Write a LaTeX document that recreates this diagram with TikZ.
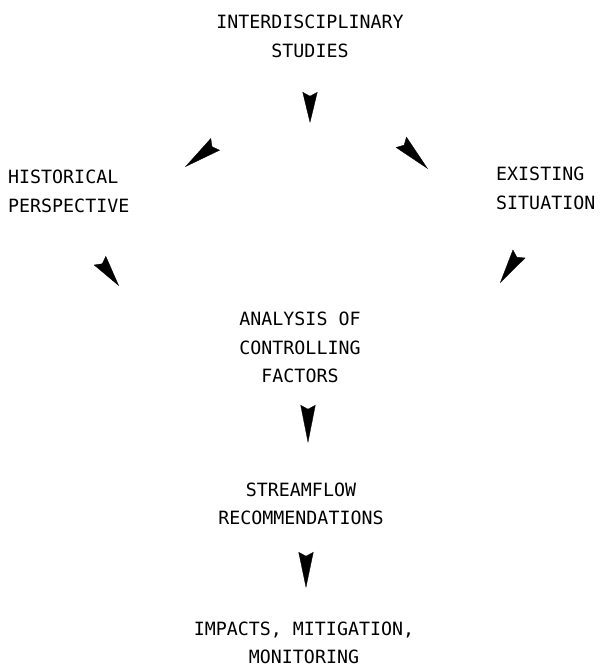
\documentclass[tikz,border=0pt]{standalone}
\usepackage{fontspec}
\newfontfamily\flowfont{DejaVu Sans Mono}
\usetikzlibrary{arrows.meta}
\tikzset{stage/.style = {font=\flowfont\fontsize{15.6}{24.3}\selectfont, inner sep=0},
         headonly/.style = {-{Stealth[length=#1, width=0.45cm, inset=0.12cm]}, line width=0.3pt}}

\begin{document}
\begin{tikzpicture}[x=0.03cm, y=-0.03cm]
    \useasboundingbox (0,0) rectangle (602,670);

    \node [stage, align=center] (studies) at (310,36.5) {INTERDISCIPLINARY\\STUDIES};
    \node [stage, align=left, anchor=west] (history) at (8,191.5) {HISTORICAL\\PERSPECTIVE};
    \node [stage, align=left, anchor=west] (existing) at (496,188.5) {EXISTING\\SITUATION};
    \node [stage, align=center] (analysis) at (300,347.5) {ANALYSIS OF\\CONTROLLING\\FACTORS};
    \node [stage, align=center] (streamflow) at (301,504) {STREAMFLOW\\RECOMMENDATIONS};
    \node [stage, align=center] (impacts) at (304,643) {IMPACTS, MITIGATION,\\MONITORING};

    \coordinate (h1a) at (310,113);   \coordinate (h1b) at (310,123);
    \coordinate (h2a) at (193,161);   \coordinate (h2b) at (185,167);
    \coordinate (h3a) at (421,162);   \coordinate (h3b) at (428,169);
    \coordinate (h4a) at (113,278);   \coordinate (h4b) at (119,286);
    \coordinate (h5a) at (505.5,274.6); \coordinate (h5b) at (500,283);
    \coordinate (h6a) at (308,433);   \coordinate (h6b) at (308,443);
    \coordinate (h7a) at (306,578);   \coordinate (h7b) at (306,588);

    \draw [headonly=0.93cm] (h1a) -- (h1b);
    \draw [headonly=1.14cm] (h2a) -- (h2b);
    \draw [headonly=1.14cm] (h3a) -- (h3b);
    \draw [headonly=0.96cm] (h4a) -- (h4b);
    \draw [headonly=1.05cm] (h5a) -- (h5b);
    \draw [headonly=1.14cm] (h6a) -- (h6b);
    \draw [headonly=1.08cm] (h7a) -- (h7b);
\end{tikzpicture}
\end{document}
